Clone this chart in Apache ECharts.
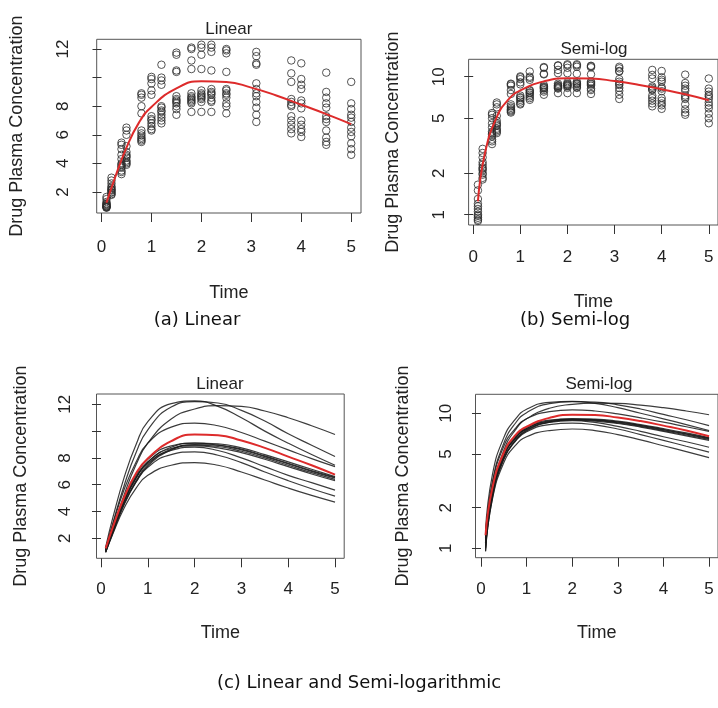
<!DOCTYPE html>
<html><head><meta charset="utf-8">
<script src="https://cdn.jsdelivr.net/npm/echarts@6/dist/echarts.min.js"></script>
<style>html,body{margin:0;padding:0;background:#fff}#c{width:718px;height:708px}</style>
</head><body><div id="c"></div>
<script>
// ---- data ----
const obsTimes = [0.1,0.2,0.4,0.5,0.8,1,1.2,1.5,1.8,2,2.2,2.5,3.1,3.8,4,4.5,5];
const obsConc = [
  [1.65,1.5,1.3,1.2,1.15,1.1,1.05,1.0,0.98,0.95,0.92,0.9],
  [3.0,2.8,2.6,2.4,2.3,2.2,2.15,2.1,2.0,1.95,1.85,1.8],
  [5.45,5.3,5.0,4.6,4.3,4.0,3.9,3.8,3.7,3.5,3.4,3.25],
  [6.5,6.3,6.0,5.2,4.8,4.6,4.5,4.4,4.2,4.1,4.0,3.9],
  [8.9,8.8,8.6,8.0,7.5,6.3,6.1,5.95,5.8,5.7,5.6,5.5],
  [10.05,9.9,9.6,9.1,8.8,7.3,7.1,7.0,6.8,6.6,6.4,6.3],
  [10.9,10.0,9.8,9.5,8.0,7.9,7.7,7.6,7.4,7.2,7.0,6.8],
  [11.75,11.6,10.5,10.4,8.7,8.5,8.4,8.3,8.2,8.0,7.8,7.4],
  [12.1,12.0,11.2,10.6,8.9,8.7,8.6,8.5,8.4,8.3,8.2,7.6],
  [12.3,12.1,11.6,10.6,9.1,8.9,8.8,8.7,8.6,8.5,8.3,7.6],
  [12.3,12.1,11.8,10.5,9.2,9.0,8.9,8.8,8.6,8.4,8.3,7.6],
  [12.0,11.9,11.7,10.4,9.2,9.1,8.9,8.8,8.6,8.2,8.0,7.5],
  [11.8,11.5,11.0,10.9,9.6,9.2,8.9,8.7,8.3,7.9,7.4,6.9],
  [11.2,10.3,9.7,8.5,8.3,8.1,8.0,7.3,7.0,6.7,6.4,6.1],
  [11.0,9.9,9.5,9.2,8.4,8.2,7.85,7.0,6.7,6.4,6.2,5.85],
  [10.35,9.0,8.6,8.2,7.9,7.3,7.1,6.9,6.3,5.8,5.5,5.3],
  [9.7,8.2,7.8,7.4,7.2,6.9,6.5,6.2,5.9,5.4,5.0,4.6]
];
const curveTimes = [0.1,0.25,0.5,0.75,1,1.5,2,2.5,3,3.5,4,4.5,5];
const subjectCurves = [
  [1.35,3.5,6.6,9.0,10.7,12.05,12.25,11.85,11.0,10.0,9.1,8.25,7.45],
  [1.2,3.1,6.0,8.4,10.1,11.8,12.2,12.1,11.55,10.75,9.8,8.95,8.1],
  [1.1,2.7,5.3,7.5,9.1,10.9,11.65,11.9,11.85,11.5,11.0,10.4,9.75],
  [1.25,3.0,5.7,7.7,9.1,10.3,10.6,10.4,9.9,9.25,8.6,7.95,7.35],
  [1.05,2.5,4.8,6.5,7.7,8.8,9.1,9.05,8.75,8.25,7.7,7.15,6.6],
  [1.15,2.7,5.0,6.7,7.9,8.9,9.1,8.95,8.6,8.1,7.55,7.0,6.5],
  [0.95,2.35,4.55,6.2,7.4,8.6,9.0,8.95,8.65,8.15,7.6,7.05,6.55],
  [1.0,2.45,4.65,6.3,7.5,8.65,8.95,8.85,8.5,8.0,7.45,6.9,6.4],
  [1.1,2.6,4.9,6.55,7.7,8.7,8.9,8.75,8.4,7.9,7.35,6.8,6.3],
  [1.1,2.6,4.85,6.5,7.6,8.55,8.8,8.55,8.0,7.35,6.7,6.15,5.6],
  [1.0,2.45,4.65,6.2,7.3,8.25,8.45,8.2,7.65,6.95,6.3,5.7,5.15],
  [0.95,2.3,4.3,5.75,6.7,7.45,7.65,7.45,6.95,6.35,5.75,5.2,4.7]
];
const meanCurve = [1.25,2.8,5.1,6.85,7.95,9.25,9.75,9.7,9.3,8.75,8.1,7.45,6.75];
const xTicks = [0,1,2,3,4,5];
const linTicks = [2,4,6,8,10,12];
const linLabels = [2,4,6,8,12];
const logTicks = [1,2,5,10];

// ---- build ----
const scatterData = [];
obsTimes.forEach((t,i)=>obsConc[i].forEach(c=>scatterData.push([t,c])));
const meanData = curveTimes.map((t,i)=>[t,meanCurve[i]]);

const FONT = '"Liberation Sans", Arial, sans-serif';
const TXT = '#222';
const grids = [
  {left:96.7, top:39.3, width:264.3, height:173.7},
  {left:468.6, top:59.3, width:251.5, height:165.7},
  {left:96.5, top:394, width:247.7, height:164.3},
  {left:475.5, top:394.3, width:249, height:163.4}
];
const gridOpts = grids.map(g=>Object.assign({show:true, borderColor:'#555', borderWidth:1, backgroundColor:'transparent'}, g));

function xAx(i, min, max, lm, ng){
  return {gridIndex:i, type:'value', min:min, max:max,
    axisLine:{show:false}, splitLine:{show:false},
    axisTick:{show:true, length:9, customValues:xTicks, lineStyle:{color:'#333'}},
    axisLabel:{customValues:xTicks, fontSize:17, fontFamily:FONT, color:TXT, margin:lm},
    name:'Time', nameLocation:'middle', nameGap:ng,
    nameTextStyle:{fontSize:18, fontFamily:FONT, color:TXT}};
}
function yAx(i, type, min, max, ticks, labels, lm, ng){
  return {gridIndex:i, type:type, min:min, max:max, logBase:10,
    axisLine:{show:false}, splitLine:{show:false},
    axisTick:{show:true, length:9, customValues:ticks, lineStyle:{color:'#333'}},
    axisLabel:{customValues:labels, rotate:90, fontSize:17, fontFamily:FONT, color:TXT, margin:lm},
    name:'Drug Plasma Concentration', nameLocation:'middle', nameGap:ng, nameRotate:90,
    nameTextStyle:{fontSize:18, fontFamily:FONT, color:TXT}};
}

const series = [];
const scatterStyle = {symbol:'circle', symbolSize:7.5,
  itemStyle:{color:'rgba(0,0,0,0)', borderColor:'#2a2a2a', borderWidth:1}};
[0,1].forEach(i=>{
  series.push(Object.assign({type:'scatter', xAxisIndex:i, yAxisIndex:i, data:scatterData, silent:true, z:2}, scatterStyle));
});
[2,3].forEach(i=>{
  subjectCurves.forEach(arr=>{
    series.push({type:'line', xAxisIndex:i, yAxisIndex:i, smooth:0.5, showSymbol:false, silent:true, z:2,
      data:curveTimes.map((t,k)=>[t,arr[k]]),
      lineStyle:{color:'#1a1a1a', width:1.2, opacity:0.85}});
  });
});
[0,1,2,3].forEach(i=>{
  series.push({type:'line', xAxisIndex:i, yAxisIndex:i, smooth:0.5, showSymbol:false, silent:true, z:5,
    data:meanData, lineStyle:{color:'#DD2B2B', width:2}});
});

function txt(x,y,s,size){
  return {type:'text', x:x, y:y, silent:true, z:10,
    style:{text:s, fontSize:size, fontFamily:FONT, fill:TXT, align:'center', verticalAlign:'middle'}};
}
const CAPF = '"DejaVu Sans", sans-serif';
function cap(x,y,s){
  return {type:'text', x:x, y:y, silent:true, z:10,
    style:{text:s, fontSize:18, fontFamily:CAPF, fill:'#111', align:'center', verticalAlign:'middle'}};
}

const option = {
  animation:false,
  backgroundColor:'#fff',
  grid:gridOpts,
  xAxis:[xAx(0,-0.096,5.196,26,71), xAx(1,-0.098,5.196,24,68), xAx(2,-0.096,5.196,23,66), xAx(3,-0.12,5.196,23,66)],
  yAxis:[
    yAx(0,'value',0.53,12.68,linTicks,linLabels,25,71),
    yAx(1,'log',0.842,13.37,logTicks,logTicks,21,67),
    yAx(2,'value',0.507,12.77,linTicks,linLabels,23,66),
    yAx(3,'log',0.852,13.82,logTicks,logTicks,21,63)
  ],
  series:series,
  graphic:[
    txt(228.8,29,'Linear',17),
    txt(594,49,'Semi-log',17),
    txt(220,384,'Linear',17),
    txt(599,384,'Semi-log',17),
    cap(197,320,'(a) Linear'),
    cap(575,320,'(b) Semi-log'),
    cap(359,683,'(c) Linear and Semi-logarithmic')
  ]
};
echarts.init(document.getElementById('c'),null,{renderer:'canvas'}).setOption(option);
</script></body></html>
